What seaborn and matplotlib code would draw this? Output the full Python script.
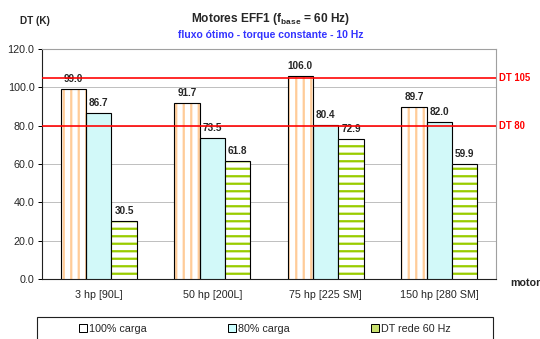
import numpy as np
import pandas as pd
import matplotlib
matplotlib.use("Agg")
import matplotlib.pyplot as plt
from matplotlib.patches import Rectangle, Patch
from matplotlib.ticker import FormatStrFormatter, FixedLocator
import seaborn as sns

# ---- data -------------------------------------------------------------
motors = ["3 hp [90L]", "50 hp [200L]", "75 hp [225 SM]", "150 hp [280 SM]"]
series = ["100% carga", "80% carga", "DT rede 60 Hz"]
load_100 = [99.0, 91.7, 106.0, 89.7]
load_80 = [86.7, 73.5, 80.4, 82.0]
dt_grid = [30.5, 61.8, 72.9, 59.9]
limit_values = [105, 80]
limit_labels = ["DT 105", "DT 80"]

df = pd.DataFrame({
    "motor": motors * 3,
    "serie": [s for s in series for _ in motors],
    "dt": load_100 + load_80 + dt_grid,
})

# ---- style ------------------------------------------------------------
sns.set_style("white")
plt.rcParams["font.family"] = ["Liberation Sans", "DejaVu Sans"]
plt.rcParams["mathtext.fontset"] = "custom"
plt.rcParams["mathtext.rm"] = "Liberation Sans:bold"
plt.rcParams["mathtext.bf"] = "Liberation Sans:bold"
plt.rcParams["hatch.linewidth"] = 1.8

orange = "#FFCC99"
cyan = "#CCFFFF"
green = "#99CC00"

DPI = 90
fig = plt.figure(figsize=(540 / DPI, 339 / DPI), dpi=DPI)
ax = fig.add_axes([42 / 540, 1 - 279 / 339, 454 / 540, 230 / 339])

sns.barplot(data=df, x="motor", y="dt", hue="serie", order=motors,
            hue_order=series, palette=["white", cyan, "white"],
            width=0.67, legend=False, ax=ax, zorder=3)

# hatch patterns drawn in the fill colour, with a black outline on top
styles = [(orange, "||"), (None, None), (green, "--")]
for cont, (hcol, hatch) in zip(ax.containers, styles):
    for bar in cont:
        bar.set_linewidth(0.9)
        if hatch is None:
            bar.set_edgecolor("black")
            continue
        bar.set_edgecolor(hcol)
        bar.set_hatch(hatch)
        bar.set_linewidth(0)
        ax.add_patch(Rectangle(bar.get_xy(), bar.get_width(), bar.get_height(),
                               fill=False, edgecolor="black", lw=0.9, zorder=4))
    ax.bar_label(cont, fmt="%.1f", padding=4, fontsize=8,
                 fontweight="bold", zorder=5)

# reference limit lines
for val, lab in zip(limit_values, limit_labels):
    ax.axhline(val, color="#FF0000", lw=1.3, zorder=6)
    ax.annotate(lab, xy=(1, val), xycoords=("axes fraction", "data"),
                xytext=(2.5, 0), textcoords="offset points", va="center",
                ha="left", color="#FF0000", fontsize=7.6, fontweight="bold",
                annotation_clip=False)

# axes
ax.set_ylim(0, 120)
ax.set_yticks(np.arange(0, 121, 20))
ax.yaxis.set_major_formatter(FormatStrFormatter("%.1f"))
ax.yaxis.grid(True, color="#C0C0C0", lw=0.8, zorder=0)
ax.set_axisbelow(True)
ax.set_xlim(-0.5, len(motors) - 0.5)
ax.xaxis.set_minor_locator(FixedLocator(np.arange(-0.5, len(motors), 1.0)))
ax.tick_params(axis="x", which="major", length=0, pad=9, labelsize=8.6)
ax.tick_params(axis="x", which="minor", length=3, width=0.8,
               color="black", direction="out")
ax.tick_params(axis="y", length=3, width=0.8, color="black",
               direction="out", pad=3, labelsize=8.6, left=True)
ax.set_xlabel("")
ax.set_ylabel("")
for side in ["top", "right"]:
    ax.spines[side].set_color("#A0A0A0")
    ax.spines[side].set_linewidth(0.9)
for side in ["left", "bottom"]:
    ax.spines[side].set_color("#202020")
    ax.spines[side].set_linewidth(0.9)

# titles and axis captions
fig.text(271 / 540, 1 - 19 / 339,
         r"Motores EFF1 (f$_{\mathbf{base}}$ = 60 Hz)",
         ha="center", va="center", fontsize=9.5, fontweight="bold")
fig.text(271 / 540, 1 - 35 / 339, "fluxo ótimo - torque constante - 10 Hz",
         ha="center", va="center", fontsize=8.3, fontweight="bold",
         color="#3333FF")
fig.text(20 / 540, 1 - 21 / 339, "DT (K)", ha="left", va="center",
         fontsize=8, fontweight="bold")
fig.text(510 / 540, 1 - 283 / 339, "motor", ha="left", va="center",
         fontsize=8.5, fontweight="bold")

# legend
handles = [
    Patch(facecolor="white", edgecolor="black", lw=0.8),
    Patch(facecolor=cyan, edgecolor="black", lw=0.8),
    Patch(facecolor="#C8E06E", edgecolor="black", lw=0.8),
]
fig.legend(handles, series, loc="center", ncol=3,
           bbox_to_anchor=(265 / 540, 1 - 329 / 339), frameon=False,
           fontsize=8.6, handlelength=0.7, handleheight=0.7,
           handletextpad=0.2, columnspacing=7.6, borderpad=0)
fig.patches.append(Rectangle((37 / 540, -0.05), 456 / 540,
                             (339 - 317) / 339 + 0.05,
                             transform=fig.transFigure, fill=False,
                             edgecolor="#202020", lw=0.9))

fig.savefig("out.png", dpi=DPI)
